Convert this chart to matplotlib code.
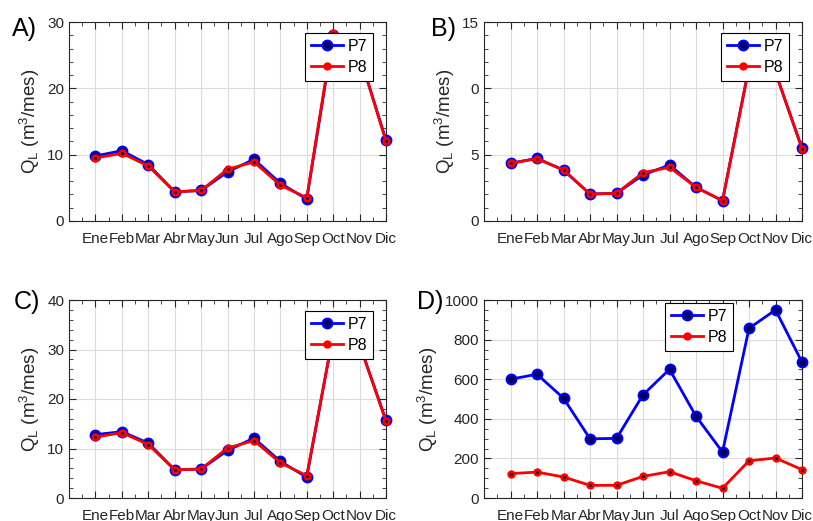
import matplotlib

matplotlib.use("Agg")
import matplotlib.pyplot as plt
from matplotlib.ticker import MultipleLocator

plt.rcParams["font.family"] = ["Liberation Sans", "DejaVu Sans"]
plt.rcParams["mathtext.fontset"] = "custom"
plt.rcParams["mathtext.rm"] = "Liberation Sans"
plt.rcParams["mathtext.it"] = "Liberation Sans"

months = ["Ene", "Feb", "Mar", "Abr", "May", "Jun",
          "Jul", "Ago", "Sep", "Oct", "Nov", "Dic"]

# panel A
a_p7 = [9.8, 10.6, 8.5, 4.4, 4.6, 7.4, 9.3, 5.7, 3.3, 28.0, 25.0, 12.2]
a_p8 = [9.5, 10.2, 8.3, 4.4, 4.6, 7.8, 8.9, 5.4, 3.5, 28.4, 25.0, 12.0]
# panel B
b_p7 = [4.35, 4.72, 3.84, 2.03, 2.09, 3.47, 4.22, 2.54, 1.53, 11.6, 11.2, 5.48]
b_p8 = [4.35, 4.70, 3.84, 2.03, 2.09, 3.64, 4.05, 2.54, 1.53, 11.6, 11.2, 5.45]
# panel C
c_p7 = [12.8, 13.4, 11.1, 5.7, 5.85, 9.6, 12.1, 7.4, 4.2, 33.0, 31.0, 15.7]
c_p8 = [12.3, 13.2, 10.8, 5.7, 5.85, 10.1, 11.6, 7.1, 4.5, 33.0, 31.0, 15.5]
# panel D
d_p7 = [600, 625, 504, 299, 301, 521, 650, 413, 232, 857, 950, 686]
d_p8 = [123, 131, 106, 64, 64, 109, 133, 87, 49, 188, 202, 143]

panels = [
    ("A)", a_p7, a_p8, 30, [0, 10, 20, 30], ["0", "10", "20", "30"], 2),
    ("B)", b_p7, b_p8, 15, [0, 5, 10, 15], ["0", "5", "0", "15"], 1),
    ("C)", c_p7, c_p8, 40, [0, 10, 20, 30, 40], ["0", "10", "20", "30", "40"], 2),
    ("D)", d_p7, d_p8, 1000, [0, 200, 400, 600, 800, 1000],
     ["0", "200", "400", "600", "800", "1000"], 50),
]

W, H = 813, 521
# axes boxes in pixels: left, top, right, bottom
boxes = [(69, 22, 386, 221), (484, 22, 802, 221),
         (69, 300, 386, 498), (484, 300, 802, 498)]
# legend upper-right corner in pixels
legend_corner = [(373, 33), (789, 33), (373, 311), (733, 303)]
# panel letter left/center in pixels
letter_pos = [(12, 29), (431, 29), (14, 302), (417, 302)]

fig = plt.figure(figsize=(W / 100, H / 100), dpi=100)
x = list(range(1, 13))

for (label, p7, p8, ymax, yt, ytl, ymin), (l, t, r, b), lc, lp in zip(
        panels, boxes, legend_corner, letter_pos):
    ax = fig.add_axes([l / W, 1 - b / H, (r - l) / W, (b - t) / H])
    ax.plot(x, p7, "-o", color="#0000ff", lw=2, ms=7, clip_on=False,
            mfc="#000060", mec="#0000ff", mew=1.5, label="P7", zorder=3)
    ax.plot(x, p8, "-o", color="#ff0000", lw=2, ms=5, clip_on=False,
            mfc="#ff0000", mec="#ff0000", label="P8", zorder=4)
    ax.plot(x, p8, ".", color="black", ms=2, clip_on=False, zorder=5)
    ax.set_xlim(0, 12)
    ax.set_ylim(0, ymax)
    ax.set_xticks(x)
    ax.set_xticklabels(months)
    ax.set_yticks(yt)
    ax.set_yticklabels(ytl)
    ax.xaxis.set_minor_locator(MultipleLocator(0.5))
    ax.yaxis.set_minor_locator(MultipleLocator(ymin))
    ax.tick_params(which="both", direction="in", top=True, right=True,
                   colors="#262626", labelsize=11)
    ax.tick_params(which="major", length=5)
    ax.tick_params(which="minor", length=3)
    ax.tick_params(axis="x", pad=8)
    for s in ax.spines.values():
        s.set_color("#262626")
        s.set_linewidth(0.8)
    ax.grid(True, which="major", color="#dcdcdc", lw=0.8)
    ax.set_axisbelow(True)
    ax.set_ylabel(r"Q$_\mathrm{L}$ (m$^3$/mes)", fontsize=13.5, color="#262626",
                  labelpad=4)
    leg = ax.legend(loc="upper right",
                    bbox_to_anchor=(lc[0] / W, 1 - lc[1] / H),
                    bbox_transform=fig.transFigure, fontsize=11.5,
                    fancybox=False, framealpha=1, edgecolor="black",
                    handlelength=2.0, borderpad=0.35, labelspacing=0.4,
                    handletextpad=0.3, borderaxespad=0)
    leg.get_frame().set_linewidth(0.8)
    fig.text(lp[0] / W, 1 - lp[1] / H, label, fontsize=18,
             ha="left", va="center")

fig.savefig("out.png", dpi=100)
